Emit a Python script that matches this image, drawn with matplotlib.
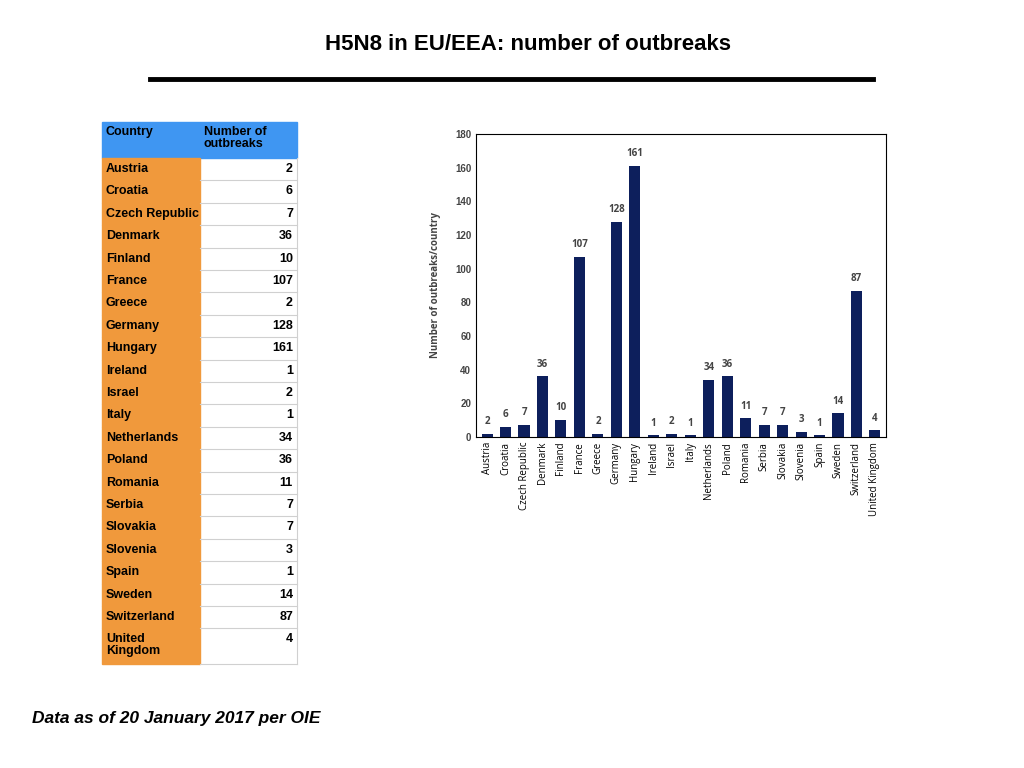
import matplotlib.pyplot as plt
from matplotlib.patches import Rectangle

countries = ["Austria", "Croatia", "Czech Republic", "Denmark", "Finland", "France",
             "Greece", "Germany", "Hungary", "Ireland", "Israel", "Italy", "Netherlands",
             "Poland", "Romania", "Serbia", "Slovakia", "Slovenia", "Spain", "Sweden",
             "Switzerland", "United Kingdom"]
outbreaks = [2, 6, 7, 36, 10, 107, 2, 128, 161, 1, 2, 1, 34, 36, 11, 7, 7, 3, 1, 14, 87, 4]

plt.rcParams['font.family'] = ['Liberation Sans', 'DejaVu Sans']
W, H = 1024, 768
fig = plt.figure(figsize=(W / 100, H / 100), dpi=100)

# title and rule
fig.text(528 / W, 1 - 44 / H, "H5N8 in EU/EEA: number of outbreaks", ha='center', va='center',
         fontsize=16, fontweight='bold')
fig.add_artist(plt.Line2D([150 / W, 873 / W], [1 - 79 / H] * 2, color='black', lw=3.5))

# table (pixel coords, y downwards)
tab = fig.add_axes([0, 0, 1, 1])
tab.set_xlim(0, W)
tab.set_ylim(H, 0)
tab.axis('off')
blue, orange = '#3f96f2', '#f0993c'
tab.add_patch(Rectangle((102, 122), 195, 36, color=blue))
tab.text(106, 126, "Country", fontsize=9, fontweight='bold', va='top')
tab.text(204, 126, "Number of\noutbreaks", fontsize=9, fontweight='bold', va='top', linespacing=1.0)
row_h = 22.4
y = 158
for i, (c, n) in enumerate(zip(countries, outbreaks)):
    h = 36 if c == "United Kingdom" else row_h
    tab.add_patch(Rectangle((102, y), 98, h, color=orange))
    tab.plot([200, 297], [y + h, y + h], color='#d0d0d0', lw=0.8)
    label = "United\nKingdom" if c == "United Kingdom" else c
    tab.text(106, y + 5, label, fontsize=9, fontweight='bold', va='top', linespacing=1.0)
    tab.text(293, y + 5, str(n), fontsize=9, fontweight='bold', va='top', ha='right')
    y += h
tab.plot([297, 297], [158, y], color='#d0d0d0', lw=0.8)

fig.text(32 / W, 1 - 719 / H, "Data as of 20 January 2017 per OIE", fontsize=12.5,
         fontweight='bold', fontstyle='italic', va='center')

# bar chart
ax = fig.add_axes([476 / W, 1 - 437 / H, 410 / W, 303 / H])
x = range(len(countries))
bars = ax.bar(x, outbreaks, width=0.6, color='#0d1f5c')
for xi, v in zip(x, outbreaks):
    ax.text(xi, v + 4, str(v), ha='center', va='bottom', fontsize=7, fontweight='bold',
            color='#444444', family=['Open Sans', 'DejaVu Sans'])
ax.set_xlim(-0.6, len(countries) - 0.4)
ax.set_ylim(0, 180)
ax.set_yticks(range(0, 181, 20))
ax.set_xticks(list(x))
ax.set_xticklabels(countries, rotation=90, fontsize=7, family=['Open Sans', 'DejaVu Sans'])
for lab in ax.get_yticklabels():
    lab.set_fontsize(7)
    lab.set_fontweight('bold')
    lab.set_color('#444444')
ax.tick_params(length=0)
ax.set_ylabel("Number of outbreaks/country", fontsize=7, fontweight='bold', color='#444444',
              family=['Open Sans', 'DejaVu Sans'], labelpad=10)
for s in ax.spines.values():
    s.set_linewidth(0.8)

fig.savefig("out.png", dpi=100)
